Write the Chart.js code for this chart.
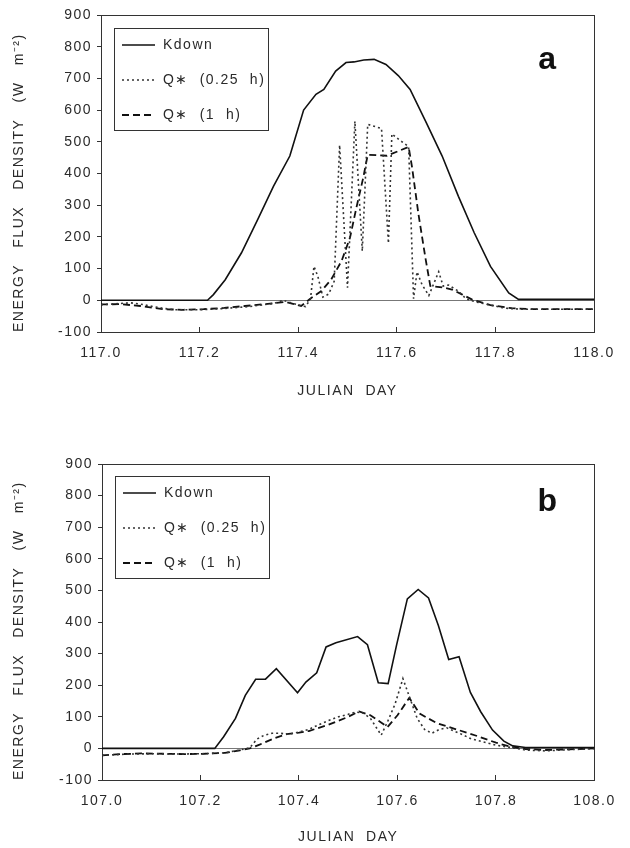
<!DOCTYPE html>
<html>
<head>
<meta charset="utf-8">
<title>Energy flux density</title>
<script src="https://cdn.jsdelivr.net/npm/chart.js@4.4.0/dist/chart.umd.min.js"></script>
<style>
  body { margin: 0; background: #fff; }
  .panel { position: absolute; left: 0; }
</style>
</head>
<body>
<div class="panel" style="top:0"><canvas id="chartA" width="630" height="420"></canvas></div>
<div class="panel" style="top:420px"><canvas id="chartB" width="630" height="428"></canvas></div>
<script>
// panel a : day 117
const kdownDaysA = [117.0, 117.216, 117.228, 117.252, 117.285, 117.318, 117.350, 117.383, 117.411, 117.436, 117.452, 117.476, 117.497, 117.513, 117.533, 117.554, 117.578, 117.603, 117.627, 117.660, 117.692, 117.725, 117.757, 117.790, 117.827, 117.847, 118.0];
const kdownA = [0, 0, 18, 65, 150, 255, 360, 455, 600, 650, 665, 723, 750, 752, 758, 760, 744, 709, 665, 560, 455, 328, 213, 107, 23, 3, 3];

const q15DaysA = [117.0, 117.02, 117.04, 117.06, 117.08, 117.10, 117.125, 117.15, 117.2, 117.25, 117.3, 117.35, 117.37, 117.385, 117.40, 117.415, 117.425, 117.432, 117.440, 117.450, 117.462, 117.473, 117.484, 117.500, 117.515, 117.530, 117.541, 117.556, 117.569, 117.583, 117.590, 117.606, 117.624, 117.634, 117.641, 117.651, 117.665, 117.685, 117.694, 117.705, 117.726, 117.74, 117.76, 117.79, 117.82, 117.85, 117.9, 117.95, 118.0];
const q15A = [-14, -12, -10, -8, -12, -18, -25, -30, -30, -26, -20, -10, 0, -8, -14, -20, 5, 107, 75, 10, 20, 60, 490, 40, 565, 155, 555, 548, 542, 180, 525, 505, 485, 5, 90, 50, 15, 90, 45, 48, 28, 5, -5, -15, -25, -28, -28, -28, -28];

const q1hDaysA = [117.0, 117.04, 117.08, 117.125, 117.167, 117.208, 117.25, 117.292, 117.333, 117.375, 117.406, 117.427, 117.447, 117.467, 117.488, 117.505, 117.518, 117.532, 117.541, 117.580, 117.624, 117.631, 117.644, 117.658, 117.668, 117.692, 117.712, 117.733, 117.753, 117.79, 117.833, 117.875, 117.917, 117.958, 118.0];
const q1hA = [-13, -12, -18, -28, -30, -28, -24, -18, -12, -5, -18, 8, 29, 66, 124, 197, 292, 387, 459, 456, 484, 419, 271, 134, 45, 41, 34, 18, 2, -15, -25, -28, -28, -28, -28];

// panel b : day 107
const kdownDaysB = [107.0, 107.229, 107.247, 107.271, 107.291, 107.312, 107.332, 107.354, 107.397, 107.414, 107.436, 107.455, 107.475, 107.519, 107.539, 107.561, 107.581, 107.598, 107.620, 107.642, 107.663, 107.683, 107.704, 107.725, 107.748, 107.769, 107.793, 107.816, 107.834, 107.86, 108.0];
const kdownB = [0, 0, 37, 95, 168, 219, 219, 252, 176, 210, 239, 321, 334, 354, 328, 208, 205, 326, 473, 503, 476, 389, 281, 290, 177, 116, 58, 23, 8, 3, 3];

const q15DaysB = [107.0, 107.05, 107.1, 107.15, 107.2, 107.25, 107.28, 107.30, 107.315, 107.33, 107.345, 107.36, 107.38, 107.40, 107.42, 107.44, 107.46, 107.48, 107.50, 107.515, 107.53, 107.545, 107.567, 107.58, 107.595, 107.611, 107.625, 107.64, 107.655, 107.67, 107.685, 107.70, 107.715, 107.73, 107.75, 107.78, 107.80, 107.83, 107.86, 107.9, 107.95, 108.0];
const q15B = [-22, -18, -17, -18, -17, -14, -5, 2, 30, 42, 48, 48, 45, 52, 60, 75, 88, 100, 108, 115, 112, 95, 42, 85, 140, 221, 160, 95, 60, 48, 60, 65, 55, 45, 30, 18, 10, 3, -5, -8, -4, -1];

const q1hDaysB = [107.0, 107.04, 107.08, 107.125, 107.167, 107.208, 107.25, 107.28, 107.30, 107.32, 107.35, 107.375, 107.40, 107.42, 107.46, 107.50, 107.522, 107.545, 107.58, 107.60, 107.624, 107.645, 107.68, 107.72, 107.76, 107.80, 107.83, 107.86, 107.9, 107.95, 108.0];
const q1hB = [-22, -18, -16, -17, -18, -17, -14, -6, 0, 12, 32, 45, 50, 55, 75, 100, 117, 105, 68, 105, 160, 110, 80, 60, 40, 18, 5, -2, -5, -3, 0];

const yTicks = { min: -100, max: 900, step: 100 };
const xStep = 0.2;

const FONT = '"Liberation Sans", Arial, sans-serif';
const INK = '#2a2a2a';

function toPoints(days, values) {
  return days.map((d, i) => ({ x: d, y: values[i] }));
}

// legend box + panel letter, drawn inside the plot
const panelDecor = {
  id: 'panelDecor',
  beforeDraw(chart) {
    chart.ctx.letterSpacing = '1.5px';
  },
  afterDraw(chart, args, opts) {
    const ctx = chart.ctx;
    const area = chart.chartArea;
    const bx = area.left + 13;
    const by = area.top + opts.boxTop;
    ctx.save();
    ctx.strokeStyle = '#333';
    ctx.lineWidth = 1;
    ctx.strokeRect(Math.round(bx) + 0.5, Math.round(by) + 0.5, 154, 102);
    chart.data.datasets.forEach((ds, i) => {
      const y = by + 17 + i * 35;
      ctx.setLineDash(ds.borderDash || []);
      ctx.lineWidth = ds.borderWidth;
      ctx.strokeStyle = ds.borderColor;
      ctx.beginPath();
      ctx.moveTo(bx + 8, y);
      ctx.lineTo(bx + 41, y);
      ctx.stroke();
      ctx.setLineDash([]);
      ctx.fillStyle = INK;
      ctx.font = '14px ' + FONT;
      ctx.textAlign = 'left';
      ctx.textBaseline = 'middle';
      ctx.fillText(ds.label, bx + 49, y);
    });
    ctx.font = 'bold 32px ' + FONT;
    ctx.textAlign = 'center';
    ctx.fillStyle = '#111';
    ctx.fillText(opts.letter, 548, opts.letterY);
    ctx.restore();
  }
};

function makeDatasets(kd, kv, qd15, qv15, qd1, qv1) {
  return [
    { label: 'Kdown', data: toPoints(kd, kv), borderColor: '#111', borderWidth: 1.6 },
    { label: 'Q\u2217  (0.25  h)', data: toPoints(qd15, qv15), borderColor: '#333', borderWidth: 1.6, borderDash: [2, 3] },
    { label: 'Q\u2217  (1  h)', data: toPoints(qd1, qv1), borderColor: '#111', borderWidth: 1.8, borderDash: [7, 4] }
  ];
}

function makeOptions(day0, s) {
  const tickFont = { family: FONT, size: 14 };
  const titleFont = { family: FONT, size: 14 };
  return {
    responsive: false,
    animation: false,
    layout: { padding: 0 },
    elements: { point: { radius: 0 }, line: { tension: 0, fill: false } },
    plugins: {
      legend: { display: false },
      tooltip: { enabled: false },
      panelDecor: { letter: s.letter, letterY: s.letterY, boxTop: s.boxTop }
    },
    scales: {
      x: {
        type: 'linear', position: 'bottom', min: day0, max: day0 + 1,
        ticks: { stepSize: xStep, autoSkip: false, maxRotation: 0, padding: 18, color: INK, font: tickFont,
                 callback: v => v.toFixed(1) },
        grid: { drawOnChartArea: false, drawTicks: true, tickLength: -5, tickColor: '#333' },
        border: { color: '#333', width: 1 },
        title: { display: true, text: 'JULIAN  DAY', color: INK, font: titleFont, padding: { top: 0, bottom: s.xTitlePad } },
        afterFit: scale => { scale.height = s.bottom; }
      },
      y: {
        type: 'linear', position: 'left', min: yTicks.min, max: yTicks.max,
        ticks: { stepSize: yTicks.step, padding: 5, color: INK, font: tickFont },
        grid: {
          drawOnChartArea: true, drawTicks: true, tickLength: 4, tickColor: '#333',
          color: c => (c.tick && c.tick.value === 0 ? '#777' : 'rgba(0,0,0,0)')
        },
        border: { color: '#333', width: 1 },
        title: { display: true, align: 'start', text: 'ENERGY   FLUX   DENSITY   (W   m\u207B\u00B2)', color: INK, font: titleFont, padding: { top: 11, bottom: 0 } },
        afterFit: scale => { scale.width = s.left; }
      },
      xTop: {
        type: 'linear', position: 'top',
        ticks: { display: false }, grid: { display: false },
        border: { color: '#333', width: 1 },
        afterFit: scale => { scale.height = s.top; }
      },
      yRight: {
        type: 'linear', position: 'right',
        ticks: { display: false }, grid: { display: false },
        border: { color: '#333', width: 1 },
        afterFit: scale => { scale.width = s.right; }
      }
    }
  };
}

document.addEventListener('DOMContentLoaded', () => {
  const chartA = new Chart(document.getElementById('chartA'), {
    type: 'line',
    data: { datasets: makeDatasets(kdownDaysA, kdownA, q15DaysA, q15A, q1hDaysA, q1hA) },
    options: makeOptions(117, { left: 101, right: 36, top: 15, bottom: 88, xTitlePad: 20, boxTop: 13, letter: 'a', letterY: 60 }),
    plugins: [panelDecor]
  });

  const chartB = new Chart(document.getElementById('chartB'), {
    type: 'line',
    data: { datasets: makeDatasets(kdownDaysB, kdownB, q15DaysB, q15B, q1hDaysB, q1hB) },
    options: makeOptions(107, { left: 102, right: 34, top: 44, bottom: 68, xTitlePad: 2, boxTop: 12, letter: 'b', letterY: 82 }),
    plugins: [panelDecor]
  });
});
</script>
</body>
</html>
